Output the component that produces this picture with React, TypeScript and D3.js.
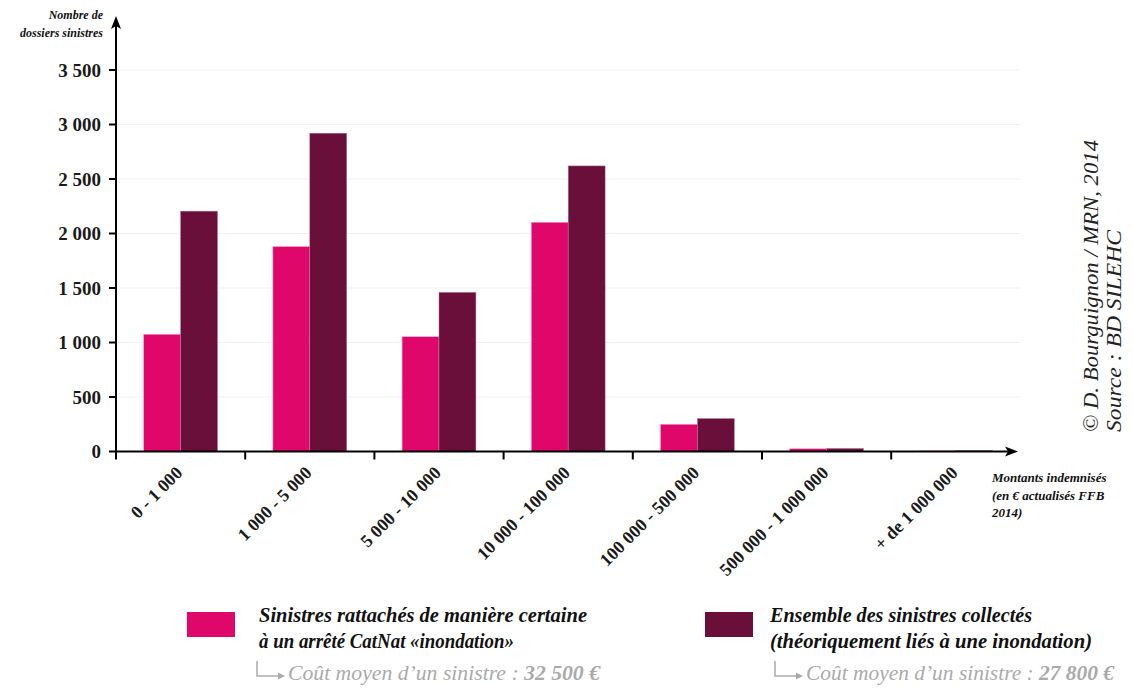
import React from "react";
import * as d3 from "d3";

const categories = [
  "0 - 1 000",
  "1 000 - 5 000",
  "5 000 - 10 000",
  "10 000 - 100 000",
  "100 000 - 500 000",
  "500 000 - 1 000 000",
  "+ de 1 000 000",
];
const seriesKeys = ["certain", "ensemble"];
const certainValues = [1075, 1880, 1053, 2103, 250, 25, 6];
const ensembleValues = [2205, 2920, 1460, 2620, 302, 28, 9];
const yTicks = [0, 500, 1000, 1500, 2000, 2500, 3000, 3500];
const colors = ["#E0076B", "#6A0F3A"];

const W = 1134;
const H = 691;
const X0 = 116;
const X1 = 1020.4;
const Y0 = 451.5;
const Y1 = 70;

const fmt = (v: number) => d3.format(",")(v).replace(/,/g, " ");
const SERIF = "Liberation Serif, DejaVu Serif, serif";

export default function App() {
  const x = d3.scaleBand<string>().domain(categories).range([X0, X1]).padding(0);
  const x1 = d3
    .scaleBand<string>()
    .domain(seriesKeys)
    .range([0, x.bandwidth()])
    .paddingInner(0)
    .paddingOuter(0.75);
  const y = d3.scaleLinear().domain([0, 3500]).range([Y0, Y1]);
  const seriesValues = [certainValues, ensembleValues];

  return (
    <svg
      width={W}
      height={H}
      style={{ position: "absolute", left: 0, top: 0, background: "#fff", fontFamily: SERIF }}
    >
      {/* gridlines */}
      {yTicks
        .filter((t) => t > 0)
        .map((t) => (
          <line key={"g" + t} x1={X0} x2={X1} y1={y(t)} y2={y(t)} stroke="#f1f1f1" strokeWidth={1.2} />
        ))}

      {/* bars */}
      {categories.map((c, i) => (
        <g key={c} transform={`translate(${x(c)},0)`}>
          {seriesKeys.map((k, j) => {
            const v = seriesValues[j][i];
            return (
              <rect
                key={k}
                x={x1(k)}
                y={y(v)}
                width={x1.bandwidth()}
                height={Y0 - y(v)}
                fill={colors[j]}
                stroke={j === 0 ? "#f4a8cb" : "#b07890"}
                strokeWidth={0.5}
              />
            );
          })}
        </g>
      ))}

      {/* y axis */}
      <line x1={X0} x2={X0} y1={Y0 + 1} y2={24} stroke="#000" strokeWidth={2} />
      <path d={`M${X0},16 L${X0 - 5},29 L${X0},26 L${X0 + 5},29 Z`} fill="#000" />
      {yTicks.map((t) => (
        <g key={"t" + t}>
          <line x1={X0 - 7} x2={X0} y1={y(t)} y2={y(t)} stroke="#000" strokeWidth={2} />
          <text
            x={X0 - 15}
            y={y(t)}
            dy="0.35em"
            textAnchor="end"
            fontSize={19}
            fontWeight={600}
            fill="#1a1a1a"
            style={{ fontFamily: SERIF }}
          >
            {fmt(t)}
          </text>
        </g>
      ))}

      {/* x axis */}
      <line x1={X0 - 1} x2={1010} y1={Y0} y2={Y0} stroke="#000" strokeWidth={2} />
      <path d={`M1018,${Y0} L1005,${Y0 - 5} L1008,${Y0} L1005,${Y0 + 5} Z`} fill="#000" />
      {categories.map((c) => (
        <line
          key={"xt" + c}
          x1={x(c) as number}
          x2={x(c) as number}
          y1={Y0}
          y2={Y0 + 8}
          stroke="#000"
          strokeWidth={2}
        />
      ))}
      {categories.map((c) => {
        const cx = (x(c) as number) + x.bandwidth() / 2 + 3;
        const cy = 474;
        return (
          <text
            key={"xl" + c}
            transform={`translate(${cx},${cy}) rotate(-45)`}
            textAnchor="end"
            fontSize={18}
            fontWeight={600}
            fill="#1a1a1a"
            style={{ fontFamily: SERIF }}
          >
            {c}
          </text>
        );
      })}

      {/* axis titles */}
      <g fontStyle="italic" fontWeight="bold" fontSize={12} fill="#111" style={{ fontFamily: SERIF }}>
        <text x={103} y={19} textAnchor="end">Nombre de</text>
        <text x={103} y={37} textAnchor="end">dossiers sinistres</text>
      </g>
      <g fontStyle="italic" fontWeight={600} fontSize={13} fill="#111" style={{ fontFamily: SERIF }}>
        <text x={992} y={482}>Montants indemnisés</text>
        <text x={992} y={500}>(en € actualisés FFB</text>
        <text x={992} y={517}>2014)</text>
      </g>

      {/* credits */}
      <g fontStyle="italic" fontSize={21} fill="#222" style={{ fontFamily: SERIF }}>
        <text transform="translate(1098,432) rotate(-90)" textLength={292} lengthAdjust="spacingAndGlyphs">
          © D. Bourguignon / MRN, 2014
        </text>
        <text transform="translate(1121,432) rotate(-90)" textLength={202} lengthAdjust="spacingAndGlyphs">
          Source : BD SILEHC
        </text>
      </g>

      {/* legend */}
      <rect x={187} y={612} width={48} height={25} fill={colors[0]} />
      <rect x={705} y={612} width={48} height={25} fill={colors[1]} />
      <g fontStyle="italic" fontWeight="bold" fontSize={20} fill="#111" style={{ fontFamily: SERIF }}>
        <text x={259} y={622} textLength={328} lengthAdjust="spacingAndGlyphs">
          Sinistres rattachés de manière certaine
        </text>
        <text x={259} y={648} textLength={255} lengthAdjust="spacingAndGlyphs">
          à un arrêté CatNat «inondation»
        </text>
        <text x={770} y={622} textLength={262} lengthAdjust="spacingAndGlyphs">
          Ensemble des sinistres collectés
        </text>
        <text x={770} y={648} textLength={322} lengthAdjust="spacingAndGlyphs">
          (théoriquement liés à une inondation)
        </text>
      </g>
      <g stroke="#aaa" strokeWidth={1.5} fill="none">
        <path d="M257,661 L257,676 L280,676" />
        <path d="M775,661 L775,676 L798,676" />
      </g>
      <g fill="#aaa">
        <path d="M285,676 L278,672.5 L278,679.5 Z" />
        <path d="M803,676 L796,672.5 L796,679.5 Z" />
      </g>
      <g fontStyle="italic" fontSize={20} fill="#aaa" style={{ fontFamily: SERIF }}>
        <text x={288} y={680} textLength={312} lengthAdjust="spacingAndGlyphs">
          Coût moyen d’un sinistre : <tspan fontWeight="bold">32 500 €</tspan>
        </text>
        <text x={806} y={680} textLength={308} lengthAdjust="spacingAndGlyphs">
          Coût moyen d’un sinistre : <tspan fontWeight="bold">27 800 €</tspan>
        </text>
      </g>
    </svg>
  );
}
